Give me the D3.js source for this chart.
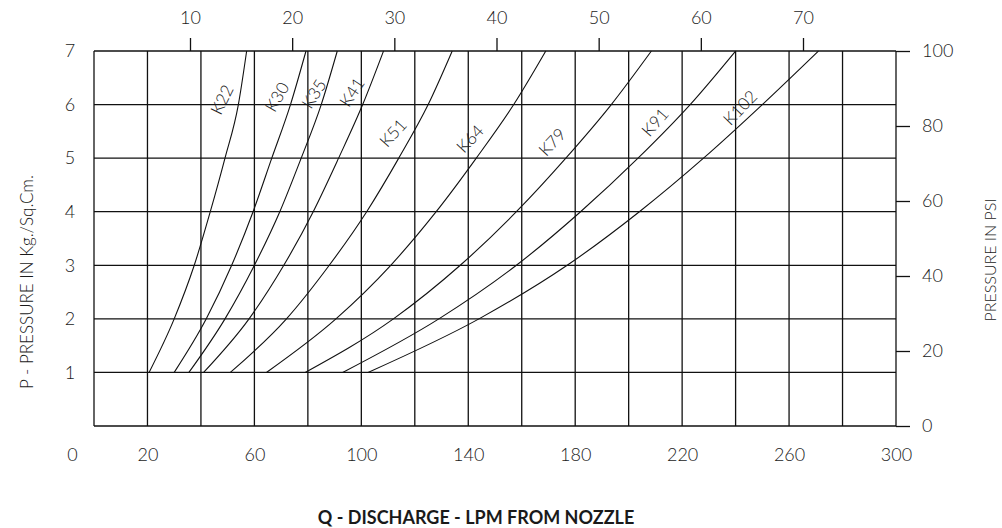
<!DOCTYPE html>
<html>
<head>
<meta charset="utf-8">
<script src="https://cdn.jsdelivr.net/npm/d3@7"></script>
<style>
  html, body { margin: 0; padding: 0; background: #ffffff; }
  svg { display: block; }
  text { font-family: Lato, "Open Sans", sans-serif; fill: #1a1a1a; font-weight: 300; }
</style>
</head>
<body>
<svg id="chart" width="1002" height="528"></svg>
<script>
// ---------- DATA ----------
const pressureKg = [1, 2, 3, 4, 5, 6, 7];                 // P levels (kg/sq.cm)
const nozzleNames = ["K22", "K30", "K35", "K41", "K51", "K64", "K79", "K91", "K102"];
// discharge Q (LPM) read at each pressure level, per nozzle
const qK22  = [20.6, 30, 37.5, 43.5, 49, 54, 57.1];
const qK30  = [30, 42, 51.5, 59.5, 66.5, 73.5, 79.3];
const qK35  = [35.5, 49, 60, 69.5, 77.5, 85, 91];
const qK41  = [41, 58, 71, 82, 91.5, 100.5, 108.3];
const qK51  = [51, 72, 88, 102, 114, 125, 134];
const qK64  = [64.5, 90.5, 111, 128, 143, 157, 169];
const qK79  = [79, 112, 137, 158, 176.5, 193.5, 208.5];
const qK91  = [93, 129, 158, 182, 203.5, 223, 240];
const qK102 = [102.5, 144, 177, 204, 228, 250, 271];
const seriesQ = [qK22, qK30, qK35, qK41, qK51, qK64, qK79, qK91, qK102];

const bottomTicks = [0, 20, 60, 100, 140, 180, 220, 260, 300]; // LPM
const leftTicks   = [1, 2, 3, 4, 5, 6, 7];                     // kg/sq.cm
const rightTicks  = [0, 20, 40, 60, 80, 100];                  // PSI
const topTicks    = [10, 20, 30, 40, 50, 60, 70];              // GPM
const gridQ = d3.range(0, 301, 20);
const gridP = d3.range(0, 8, 1);

// ---------- LAYOUT ----------
const svg = d3.select("#chart");
const x = d3.scaleLinear().domain([0, 300]).range([94, 896]);
const y = d3.scaleLinear().domain([0, 7]).range([426, 51]);
const yPsi = d3.scaleLinear().domain([0, 100]).range([426, 51]);
const xGpm = d3.scaleLinear().domain([10, 70]).range([190, 803]);

const lineCol = "#111";

// grid
const grid = svg.append("g");
grid.selectAll("line.v").data(gridQ).enter().append("line")
  .attr("x1", d => x(d)).attr("x2", d => x(d))
  .attr("y1", y(0)).attr("y2", y(7))
  .attr("stroke", lineCol).attr("stroke-width", 1.3);
grid.selectAll("line.h").data(gridP).enter().append("line")
  .attr("y1", d => y(d)).attr("y2", d => y(d))
  .attr("x1", x(0)).attr("x2", x(300))
  .attr("stroke", lineCol).attr("stroke-width", 1.3);

// curves
const lineGen = d3.line()
  .x(d => x(d[0])).y(d => y(d[1]))
  .curve(d3.curveMonotoneX);
svg.append("g").selectAll("path").data(seriesQ).enter().append("path")
  .attr("d", qs => lineGen(qs.map((q, i) => [q, pressureKg[i]])))
  .attr("fill", "none").attr("stroke", lineCol).attr("stroke-width", 1.1);

// curve labels: anchor in data units + rotation
const labelAnchors = [
  [47.9, 6.09, -64], [68.5, 6.14, -60], [82.3, 6.2, -58], [96.5, 6.23, -57],
  [111.9, 5.47, -48], [140.7, 5.36, -47], [171.4, 5.3, -47], [209.9, 5.67, -49], [241.7, 5.94, -46]
];
svg.append("g").selectAll("text").data(nozzleNames).enter().append("text")
  .attr("transform", (d, i) => `translate(${x(labelAnchors[i][0])},${y(labelAnchors[i][1])}) rotate(${labelAnchors[i][2]})`)
  .attr("text-anchor", "middle").attr("dy", "0.35em")
  .style("font-size", "17px")
  .text(d => d);

// axes
function styleAxis(g) {
  g.select(".domain").remove();
  g.selectAll(".tick line").attr("stroke", lineCol).attr("stroke-width", 1.3);
  g.selectAll(".tick text").style("font-size", "18px").attr("fill", "#1a1a1a")
    .style("font-family", "Lato, 'Open Sans', sans-serif").style("font-weight", "300");
}

// bottom (LPM)
const gb = svg.append("g").attr("transform", `translate(0,${y(0)})`)
  .call(d3.axisBottom(x).tickValues(bottomTicks).tickSize(0).tickPadding(22).tickFormat(d3.format("d")));
styleAxis(gb);
gb.selectAll(".tick").filter(d => d === 0).select("text").attr("x", -22);

// left (kg/sq.cm)
const gl = svg.append("g").attr("transform", `translate(${x(0)},0)`)
  .call(d3.axisLeft(y).tickValues(leftTicks).tickSize(0).tickPadding(24).tickFormat(d3.format("d")));
styleAxis(gl);
gl.selectAll(".tick text").attr("text-anchor", "middle");

// right (PSI)
const gr = svg.append("g").attr("transform", `translate(${x(300)},0)`)
  .call(d3.axisRight(yPsi).tickValues(rightTicks).tickSize(14).tickPadding(12).tickFormat(d3.format("d")));
styleAxis(gr);

// top (GPM)
const gt = svg.append("g").attr("transform", `translate(0,${y(7)})`)
  .call(d3.axisTop(xGpm).tickValues(topTicks).tickSize(13).tickPadding(14).tickFormat(d3.format("d")));
styleAxis(gt);

// titles
svg.append("text")
  .attr("x", 476).attr("y", 524)
  .attr("text-anchor", "middle")
  .style("font-size", "18px").style("font-weight", "bold").attr("fill", "#1a1a1a")
  .text("Q - DISCHARGE - LPM FROM NOZZLE");

svg.append("text")
  .attr("transform", "translate(27,282) rotate(-90)")
  .attr("text-anchor", "middle").attr("dy", "0.35em")
  .style("font-size", "17px")
  .text("P - PRESSURE IN Kg./Sq.Cm.");

svg.append("text")
  .attr("transform", "translate(990,260) rotate(-90)")
  .attr("text-anchor", "middle").attr("dy", "0.35em")
  .style("font-size", "16px")
  .text("PRESSURE IN PSI");
</script>
</body>
</html>
